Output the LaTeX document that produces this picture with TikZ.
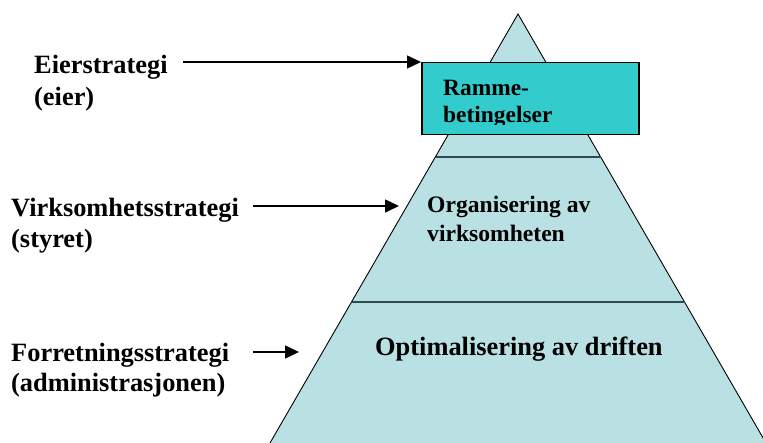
\documentclass[tikz,border=0pt]{standalone}
\usepackage{fontspec}
\setmainfont{Liberation Serif}
\usetikzlibrary{arrows.meta}
\definecolor{pyrfill}{HTML}{B9E0E3}
\definecolor{boxfill}{HTML}{33CCCC}
\definecolor{divcol}{HTML}{2F4A4C}
\tikzset{
  lbl/.style={anchor=base west, inner sep=0pt, font=\bfseries\fontsize{26.4bp}{30bp}\selectfont},
  inlbl/.style={anchor=base west, inner sep=0pt, font=\bfseries\fontsize{23.6bp}{28bp}\selectfont},
  optlbl/.style={anchor=base west, inner sep=0pt, font=\bfseries\fontsize{26.4bp}{30bp}\selectfont},
  arr/.style={line width=1.5bp, -{Triangle[length=14bp,width=13bp]}},
  divider/.style={draw=divcol, line width=2.5bp},
  framebox/.style={draw=black, fill=boxfill, line width=1.5bp, anchor=north west, inner sep=0pt,
    minimum width=217bp, minimum height=72bp}
}
\begin{document}
\begin{tikzpicture}[x=1bp,y=-1bp]
\useasboundingbox (0,0) rectangle (763,443);
% pyramid
\coordinate (apex) at (518,14);
\coordinate (bl) at (270,443);
\coordinate (br) at (766,443);
\fill[pyrfill] (apex) -- (bl) -- (br) -- cycle;
\draw[line width=0.9bp] (bl) -- (apex) -- (br);
% dividers
\coordinate (d1l) at (435.5,157);
\coordinate (d1r) at (600.5,157);
\coordinate (d2l) at (351.5,302);
\coordinate (d2r) at (684.5,302);
\draw[divider] (d1l) -- (d1r);
\draw[divider] (d2l) -- (d2r);
% frame box
\node[framebox] (box) at (421,62) {};
\begin{scope}
\clip (421,62) rectangle (638,124.5);
\node[inlbl, font=\bfseries\fontsize{23.4bp}{27bp}\selectfont] (rA) at (443,96) {Ramme-};
\node[inlbl, font=\bfseries\fontsize{23.4bp}{27bp}\selectfont] (rB) at (443,122.5) {betingelser};
\end{scope}
% inner texts
\node[inlbl] (orgA) at (427,213) {Organisering av};
\node[inlbl] (orgB) at (427,242) {virksomheten};
\node[optlbl] (opt) at (375,356) {Optimalisering av driften};
% left labels
\node[lbl] (eierA) at (34,74) {Eierstrategi};
\node[lbl] (eierB) at (34,106) {(eier)};
\node[lbl] (virkA) at (11,217) {Virksomhetsstrategi};
\node[lbl] (virkB) at (11,248) {(styret)};
\node[lbl] (forA) at (11,362) {Forretningsstrategi};
\node[lbl] (forB) at (11,391) {(administrasjonen)};
% arrows
\coordinate (s1) at (183,62);
\coordinate (s2) at (253,206);
\coordinate (e2) at (399,206);
\coordinate (s3) at (253,352);
\coordinate (e3) at (299,352);
\draw[arr] (s1) -- (box.north west);
\draw[arr] (s2) -- (e2);
\draw[arr] (s3) -- (e3);
\end{tikzpicture}
\end{document}
